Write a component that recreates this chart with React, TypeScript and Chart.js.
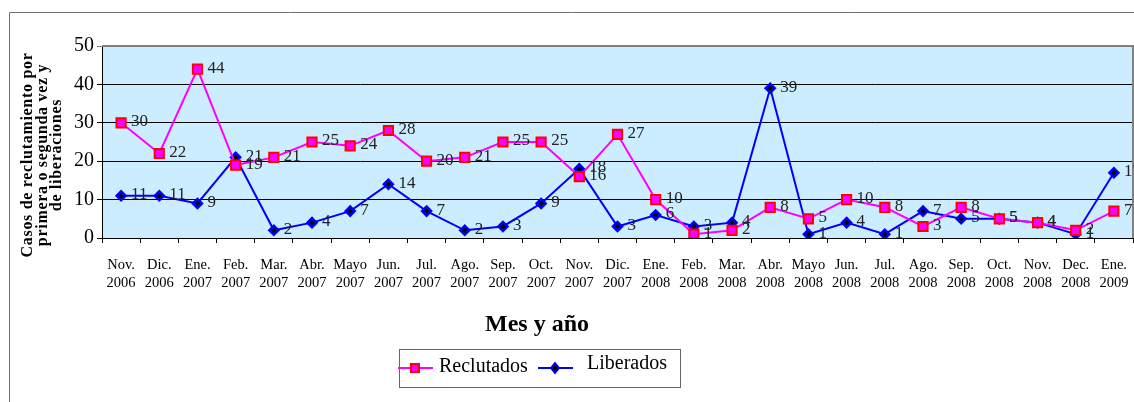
import React, { useEffect, useRef } from "react";
import { Chart, registerables } from "chart.js";

Chart.register(...registerables);

const months = [
  ["Nov.", "2006"], ["Dic.", "2006"], ["Ene.", "2007"], ["Feb.", "2007"], ["Mar.", "2007"],
  ["Abr.", "2007"], ["Mayo", "2007"], ["Jun.", "2007"], ["Jul.", "2007"], ["Ago.", "2007"],
  ["Sep.", "2007"], ["Oct.", "2007"], ["Nov.", "2007"], ["Dic.", "2007"], ["Ene.", "2008"],
  ["Feb.", "2008"], ["Mar.", "2008"], ["Abr.", "2008"], ["Mayo", "2008"], ["Jun.", "2008"],
  ["Jul.", "2008"], ["Ago.", "2008"], ["Sep.", "2008"], ["Oct.", "2008"], ["Nov.", "2008"],
  ["Dec.", "2008"], ["Ene.", "2009"],
];

const reclutados = [30, 22, 44, 19, 21, 25, 24, 28, 20, 21, 25, 25, 16, 27, 10, 1, 2, 8, 5, 10, 8, 3, 8, 5, 4, 2, 7];
const liberados = [11, 11, 9, 21, 2, 4, 7, 14, 7, 2, 3, 9, 18, 3, 6, 3, 4, 39, 1, 4, 1, 7, 5, 5, 4, 1, 17];

const yTitle = ["Casos de reclutamiento por", "primera o segunda vez y", "de liberaciones"];
const xTitle = "Mes y año";
const seriesNames = ["Reclutados", "Liberados"];

const SERIF = "'Liberation Serif', 'Times New Roman', serif";

const decorPlugin = {
  id: "decor",
  beforeDraw(chart: any) {
    const { ctx, chartArea: a } = chart;
    ctx.save();
    ctx.fillStyle = "#CCECFF";
    ctx.fillRect(a.left, a.top, a.right - a.left, a.bottom - a.top);
    ctx.restore();
  },
  beforeDatasetsDraw(chart: any) {
    const { ctx, chartArea: a } = chart;
    ctx.save();
    ctx.strokeStyle = "#808080";
    ctx.lineWidth = 2;
    ctx.beginPath();
    ctx.moveTo(a.left, a.top);
    ctx.lineTo(a.right, a.top);
    ctx.lineTo(a.right, a.bottom);
    ctx.stroke();
    ctx.strokeStyle = "#000";
    ctx.lineWidth = 1;
    ctx.beginPath();
    ctx.moveTo(a.left, a.bottom + 0.5);
    ctx.lineTo(a.right, a.bottom + 0.5);
    ctx.stroke();
    ctx.restore();
  },
  afterDatasetsDraw(chart: any) {
    const { ctx } = chart;
    ctx.save();
    ctx.font = `17px ${SERIF}`;
    ctx.fillStyle = "#222";
    ctx.textBaseline = "middle";
    ctx.textAlign = "left";
    chart.data.datasets.forEach((ds: any, i: number) => {
      const meta = chart.getDatasetMeta(i);
      meta.data.forEach((pt: any, j: number) => {
        ctx.fillText(String(ds.data[j]), pt.x + 10, pt.y - 1);
      });
    });
    ctx.restore();
  },
  afterDraw(chart: any) {
    const { ctx } = chart;
    ctx.save();
    // outer frame
    ctx.strokeStyle = "#707070";
    ctx.lineWidth = 1;
    ctx.beginPath();
    ctx.moveTo(9.5, 402);
    ctx.lineTo(9.5, 12.5);
    ctx.lineTo(1134, 12.5);
    ctx.stroke();

    // y title
    ctx.fillStyle = "#000";
    ctx.font = `bold 16px ${SERIF}`;
    (ctx as any).letterSpacing = "0.7px";
    ctx.textAlign = "center";
    ctx.textBaseline = "middle";
    const xs = [28, 43, 57];
    yTitle.forEach((t, i) => {
      ctx.save();
      ctx.translate(xs[i], 155);
      ctx.rotate(-Math.PI / 2);
      ctx.fillText(t, 0, 0);
      ctx.restore();
    });
    (ctx as any).letterSpacing = "0px";

    // x title
    ctx.font = `bold 24px ${SERIF}`;
    ctx.fillText(xTitle, 537, 325);

    // legend
    ctx.strokeStyle = "#666";
    ctx.lineWidth = 1;
    ctx.strokeRect(399.5, 349.5, 281, 38);
    ctx.lineWidth = 2;
    ctx.strokeStyle = "#FF00FF";
    ctx.beginPath();
    ctx.moveTo(398, 368);
    ctx.lineTo(433, 368);
    ctx.stroke();
    ctx.fillStyle = "#FF00FF";
    ctx.strokeStyle = "#FF0000";
    ctx.fillRect(411, 364, 8, 8);
    ctx.strokeRect(411, 364, 8, 8);
    ctx.strokeStyle = "#0000FF";
    ctx.beginPath();
    ctx.moveTo(538, 368);
    ctx.lineTo(573, 368);
    ctx.stroke();
    ctx.fillStyle = "#000";
    ctx.beginPath();
    ctx.moveTo(555, 363);
    ctx.lineTo(559, 368);
    ctx.lineTo(555, 373);
    ctx.lineTo(551, 368);
    ctx.closePath();
    ctx.fill();
    ctx.stroke();

    ctx.fillStyle = "#000";
    ctx.font = `20px ${SERIF}`;
    ctx.textAlign = "left";
    ctx.fillText(seriesNames[0], 439, 367);
    ctx.fillText(seriesNames[1], 587, 364);
    ctx.restore();
  },
};

export default function App() {
  const ref = useRef<HTMLCanvasElement>(null);
  useEffect(() => {
    if (!ref.current) return;
    const chart = new Chart(ref.current, {
      type: "line",
      data: {
        labels: months,
        datasets: [
          {
            label: seriesNames[0],
            data: reclutados,
            borderColor: "#FF00FF",
            borderWidth: 2,
            backgroundColor: "#FF00FF",
            pointStyle: "rect",
            pointRadius: 6.5,
            pointBorderColor: "#FF0000",
            pointBorderWidth: 2,
            pointBackgroundColor: "#FF00FF",
            tension: 0,
          },
          {
            label: seriesNames[1],
            data: liberados,
            borderColor: "#0000FF",
            borderWidth: 2,
            backgroundColor: "#000",
            pointStyle: "rectRot",
            pointRadius: 4.5,
            pointBorderColor: "#0000FF",
            pointBorderWidth: 2.5,
            pointBackgroundColor: "#000",
            tension: 0,
          },
        ],
      },
      options: {
        animation: false,
        responsive: false,
        layout: { autoPadding: false, padding: { top: 46, right: 1, left: 0, bottom: 0 } },
        plugins: { legend: { display: false }, tooltip: { enabled: false } },
        scales: {
          x: {
            offset: true,
            grid: { offset: true, drawOnChartArea: false, drawTicks: true, tickLength: 5, color: "#000" },
            border: { display: true, color: "#000" },
            ticks: {
              autoSkip: false,
              maxRotation: 0,
              minRotation: 0,
              padding: 13,
              color: "#000",
              font: { family: SERIF, size: 14.5, lineHeight: 1.24 },
            },
            afterFit: (s: any) => {
              s.height = 164;
              s.paddingLeft = 0;
              s.paddingRight = 0;
            },
          },
          y: {
            min: 0,
            max: 50,
            ticks: {
              stepSize: 10,
              color: "#000",
              padding: 3,
              font: { family: SERIF, size: 20 },
            },
            grid: {
              color: (c: any) => (c.tick && c.tick.value === 50 ? "#808080" : "#000"),
              tickLength: 5,
            },
            border: { display: true, color: "#000" },
            afterFit: (s: any) => {
              s.width = 102;
            },
          },
        },
      },
      plugins: [decorPlugin],
    });
    return () => chart.destroy();
  }, []);
  return (
    <div style={{ position: "fixed", left: 0, top: 0, width: 1134, height: 402, background: "#fff" }}>
      <canvas ref={ref} width={1134} height={402} style={{ width: 1134, height: 402, display: "block" }} />
    </div>
  );
}
